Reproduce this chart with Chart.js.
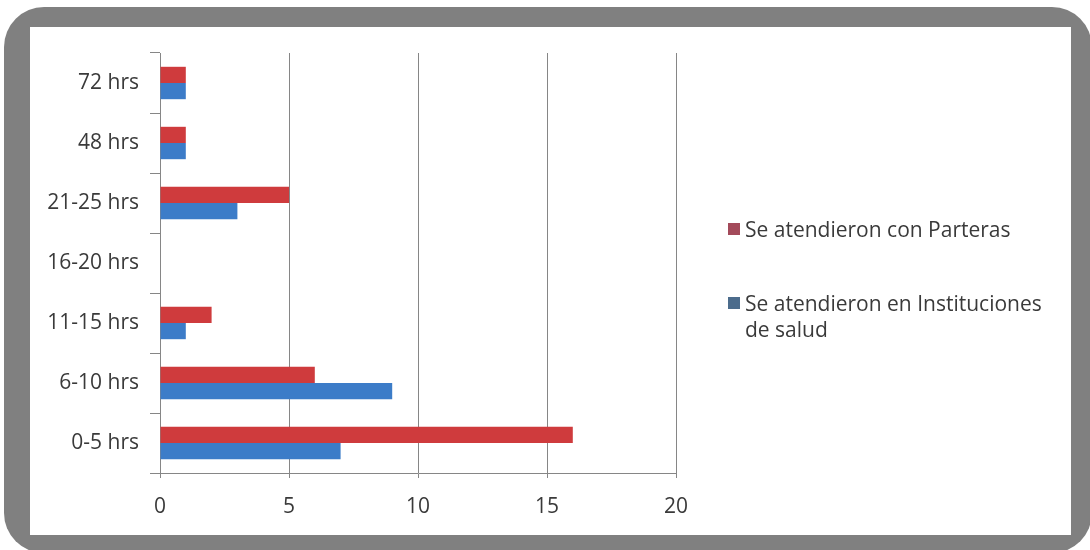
<!DOCTYPE html>
<html>
<head>
<meta charset="utf-8">
<script src="https://cdn.jsdelivr.net/npm/chart.js@4"></script>
<style>
  html, body { margin: 0; padding: 0; background: #fff; width: 1090px; height: 550px; overflow: hidden; }
  #frame {
    position: absolute; left: 4px; top: 7px; width: 1088px; height: 546px;
    background: #808080; border-radius: 40px;
  }
  #inner { position: absolute; left: 30px; top: 27px; width: 1041px; height: 508px; background: #fff; }
  #wrap { position: absolute; left: 30px; top: 27px; width: 1041px; height: 508px; }
  #legend {
    position: absolute; left: 728px; top: 216px; width: 335px;
    font-family: "Open Sans", sans-serif; font-size: 21px; color: #3a3a3a;
  }
  .item { position: relative; padding-left: 17px; line-height: 26px; margin-bottom: 48px; }
  .box { position: absolute; left: 0; top: 7px; width: 12px; height: 12px; }
</style>
</head>
<body>
<div id="frame"></div>
<div id="inner"></div>
<div id="wrap"><canvas id="chart" width="1041" height="508"></canvas></div>
<div id="legend"></div>
<script>
// Horas de trabajo de parto por lugar de atencion
const categories = ['0-5 hrs', '6-10 hrs', '11-15 hrs', '16-20 hrs', '21-25 hrs', '48 hrs', '72 hrs'];
const parteras = [16, 6, 2, 0, 5, 1, 1];
const instituciones = [7, 9, 1, 0, 3, 1, 1];
const seriesNames = ['Se atendieron con Parteras', 'Se atendieron en Instituciones de salud'];
const xTicks = [0, 5, 10, 15, 20];

const fontFam = '"Open Sans", sans-serif';
const gridColor = '#868686';

const ctx = document.getElementById('chart').getContext('2d');
const chart = new Chart(ctx, {
    type: 'bar',
    data: {
        labels: categories,
        datasets: [{
            label: seriesNames[0],
            data: parteras,
            backgroundColor: '#cf3b3d',
            legendColor: '#a34a5a'
        }, {
            label: seriesNames[1],
            data: instituciones,
            backgroundColor: '#3c7cc8',
            legendColor: '#4c6c8c'
        }]
    },
    options: {
        indexAxis: 'y',
        responsive: false,
        animation: false,
        datasets: {
            bar: { categoryPercentage: 0.54, barPercentage: 1.0 }
        },
        layout: { padding: { top: 26, right: 395, left: 0, bottom: 0 } },
        plugins: {
            legend: { display: false },
            tooltip: { enabled: false }
        },
        scales: {
            x: {
                min: 0,
                max: 20,
                afterBuildTicks: function(scale) {
                    scale.ticks = xTicks.map(v => ({ value: v }));
                },
                afterFit: function(scale) { scale.height = 62; },
                grid: { color: gridColor, lineWidth: 1, tickLength: 5 },
                border: { color: gridColor, width: 1 },
                ticks: { color: '#3a3a3a', padding: 16, font: { family: fontFam, size: 21 } }
            },
            y: {
                reverse: true,
                afterFit: function(scale) { scale.width = 130; },
                grid: { drawOnChartArea: false, color: gridColor, tickLength: 10 },
                border: { color: gridColor, width: 1 },
                ticks: { color: '#3a3a3a', padding: 11, font: { family: fontFam, size: 21 } }
            }
        }
    }
});

// legend from the datasets
const legendEl = document.getElementById('legend');
chart.data.datasets.forEach(ds => {
    const item = document.createElement('div');
    item.className = 'item';
    const box = document.createElement('span');
    box.className = 'box';
    box.style.background = ds.legendColor;
    item.appendChild(box);
    item.appendChild(document.createTextNode(ds.label));
    legendEl.appendChild(item);
});
</script>
</body>
</html>
